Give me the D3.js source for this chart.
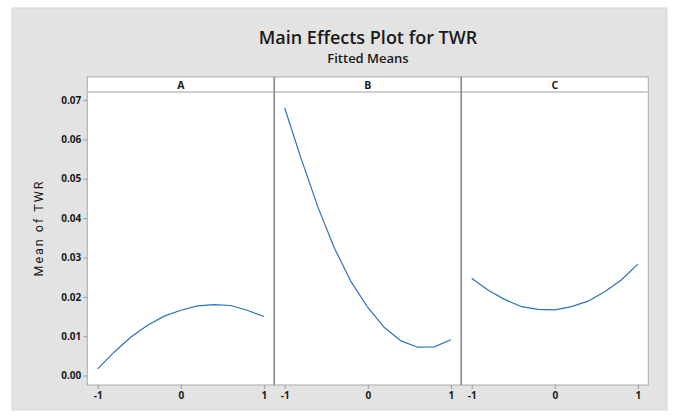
<!DOCTYPE html>
<html>
<head>
<meta charset="utf-8">
<script src="https://cdn.jsdelivr.net/npm/d3@7"></script>
<style>
body { margin:0; background:#fff; }
text { font-family:"Open Sans", sans-serif; fill:#1a1a1a; }
</style>
</head>
<body>
<div id="chart"></div>
<script>
var factors = ["A", "B", "C"];
var levels = [-1, -0.8, -0.6, -0.4, -0.2, 0, 0.2, 0.4, 0.6, 0.8, 1];
var meanA = [0.0017, 0.0060, 0.0098, 0.0128, 0.0151, 0.0166, 0.0177, 0.0180, 0.0178, 0.0166, 0.0150];
var meanB = [0.0680, 0.0550, 0.0428, 0.0323, 0.0238, 0.0173, 0.0122, 0.0088, 0.0072, 0.0073, 0.0091];
var meanC = [0.0247, 0.0217, 0.0193, 0.0175, 0.0168, 0.0167, 0.0175, 0.0189, 0.0213, 0.0243, 0.0283];
var yTicks = [0, 0.01, 0.02, 0.03, 0.04, 0.05, 0.06, 0.07];
var xTicks = [-1, 0, 1];

var series = {A: meanA, B: meanB, C: meanC};

var svg = d3.select("#chart").append("svg")
    .attr("width", 683)
    .attr("height", 418);

svg.append("rect")
    .attr("x", 12).attr("y", 8)
    .attr("width", 655).attr("height", 402)
    .style("fill", "#e3e3e3")
    .style("stroke", "#d6d6d6");

svg.append("text")
    .attr("x", 368).attr("y", 44)
    .attr("text-anchor", "middle")
    .style("font-size", "18px")
    .style("font-weight", 600)
    .text("Main Effects Plot for TWR");
svg.append("text")
    .attr("x", 368).attr("y", 63)
    .attr("text-anchor", "middle")
    .style("font-size", "13px")
    .style("font-weight", 600)
    .text("Fitted Means");

var top_strip = 77, top_plot = 93, bottom = 385;
var panel = d3.scaleBand(factors, [87.3, 648.3]);
var y = d3.scaleLinear([-0.0024, 0.0718], [bottom, top_plot]);

// white plot area + strips
factors.forEach(f => {
    var x0 = panel(f);
    svg.append("rect")
	.attr("x", x0).attr("y", top_strip)
	.attr("width", panel.bandwidth()).attr("height", bottom - top_strip)
	.style("fill", "white")
	.style("stroke", "#a9a9a9");
    svg.append("line")
	.attr("x1", x0).attr("x2", x0 + panel.bandwidth())
	.attr("y1", top_plot - 1).attr("y2", top_plot - 1)
	.style("stroke", "#cfcfcf")
	.style("stroke-width", 2);
    svg.append("text")
	.attr("x", x0 + panel.bandwidth()/2).attr("y", 89)
	.attr("text-anchor", "middle")
	.style("font-size", "10.5px")
	.style("font-weight", 700)
	.text(f);

    var x = d3.scaleLinear([-1.125, 1.125], [x0, x0 + panel.bandwidth()]);
    var pts = levels.map((l, i) => [l, series[f][i]]);
    svg.append("path")
	.datum(pts)
	.attr("d", d3.line().x(d => x(d[0])).y(d => y(d[1])))
	.style("fill", "none")
	.style("stroke", "#2b70bd")
	.style("stroke-width", 1.2);

    var xa = svg.append("g")
	.attr("transform", "translate(0," + bottom + ")")
	.call(d3.axisBottom(x).tickValues(xTicks).tickFormat(d => String(d))
	      .tickSize(4).tickPadding(3));
    xa.select(".domain").remove();
    xa.selectAll("line").style("stroke", "#9a9a9a");
    xa.selectAll("text")
	.style("font-family", "Open Sans")
	.style("font-size", "10px")
	.style("font-weight", 700)
	.style("fill", "#1a1a1a");
});

// panel separators
factors.slice(1).forEach(f => {
    svg.append("line")
	.attr("x1", panel(f)).attr("x2", panel(f))
	.attr("y1", top_strip).attr("y2", bottom)
	.style("stroke", "#8c8c8c")
	.style("stroke-width", 1.5);
});

var ya = svg.append("g")
    .attr("transform", "translate(87.3,0)")
    .call(d3.axisLeft(y).tickValues(yTicks).tickFormat(d3.format(".2f"))
	  .tickSize(4).tickPadding(2));
ya.select(".domain").remove();
ya.selectAll("line").style("stroke", "#9a9a9a");
ya.selectAll("text")
    .style("font-family", "Open Sans")
    .style("font-size", "10px")
    .style("font-weight", 700)
    .style("fill", "#1a1a1a");

svg.append("text")
    .attr("transform", "translate(43,228) rotate(-90)")
    .attr("text-anchor", "middle")
    .style("font-family", "Roboto")
    .style("font-size", "12.5px")
    .style("letter-spacing", "2px")
    .text("Mean of TWR");
</script>
</body>
</html>
